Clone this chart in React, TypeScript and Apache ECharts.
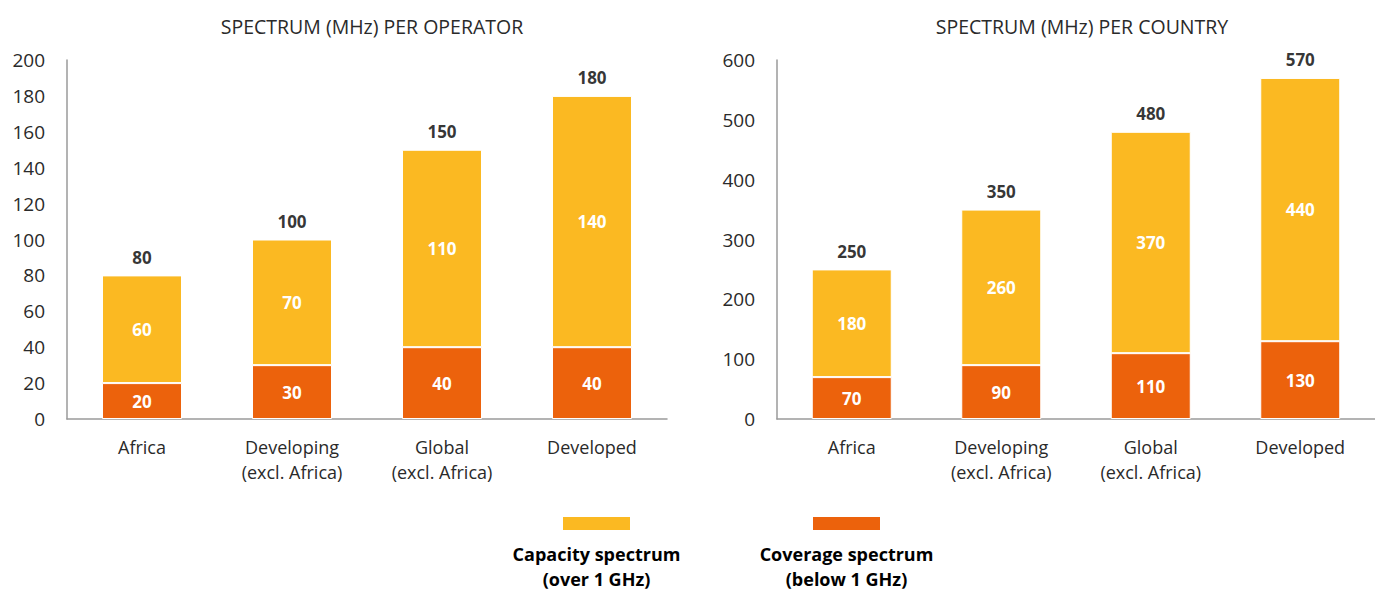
import React, { useEffect, useRef } from "react";
import * as echarts from "echarts";

const categories = ["Africa", "Developing\n(excl. Africa)", "Global\n(excl. Africa)", "Developed"];
const operatorCoverage = [20, 30, 40, 40];
const operatorCapacity = [60, 70, 110, 140];
const countryCoverage = [70, 90, 110, 130];
const countryCapacity = [180, 260, 370, 440];
const titles = ["SPECTRUM (MHz) PER OPERATOR", "SPECTRUM (MHz) PER COUNTRY"];
const legendNames = ["Capacity spectrum\n(over 1 GHz)", "Coverage spectrum\n(below 1 GHz)"];

const YELLOW = "#FBB922";
const ORANGE = "#EC620C";
const FONT = "'Open Sans', Lato, sans-serif";

export default function App() {
  const ref = useRef<HTMLDivElement>(null);
  useEffect(() => {
    if (!ref.current) return;
    const chart = echarts.init(ref.current, undefined, { renderer: "svg" });
    const opTotals = operatorCoverage.map((v, i) => v + operatorCapacity[i]);
    const coTotals = countryCoverage.map((v, i) => v + countryCapacity[i]);

    const xAxisBase = (gi: number) => ({
      type: "category" as const,
      gridIndex: gi,
      data: categories,
      axisLine: { show: true, lineStyle: { color: "#9a9a9a", width: 1.5 } },
      axisTick: { show: false },
      axisLabel: {
        color: "#2a2a2a",
        fontSize: 18,
        fontFamily: FONT,
        lineHeight: 25,
        margin: 15,
        interval: 0,
      },
    });
    const yAxisBase = (gi: number, max: number, interval: number) => ({
      type: "value" as const,
      gridIndex: gi,
      min: 0,
      max,
      interval,
      axisLine: { show: true, lineStyle: { color: "#9a9a9a", width: 1.5 } },
      axisTick: { show: false },
      splitLine: { show: false },
      axisLabel: { color: "#2a2a2a", fontSize: 19, fontFamily: FONT, margin: 22 },
    });
    const barSeries = (gi: number, data: number[], color: string, stack: string) => ({
      type: "bar" as const,
      xAxisIndex: gi,
      yAxisIndex: gi,
      stack,
      data,
      barWidth: 80,
      itemStyle: { color, borderColor: "#fff", borderWidth: 1 },
      label: {
        show: true,
        position: "inside" as const,
        color: "#fff",
        fontWeight: "bold" as const,
        fontSize: 17,
        fontFamily: FONT,
      },
    });
    const totalSeries = (gi: number, data: number[]) => ({
      type: "scatter" as const,
      xAxisIndex: gi,
      yAxisIndex: gi,
      data,
      symbolSize: 1,
      itemStyle: { color: "rgba(0,0,0,0)" },
      label: {
        show: true,
        position: "top" as const,
        distance: 9,
        color: "#000",
        fontWeight: "bold" as const,
        fontSize: 17,
        fontFamily: FONT,
      },
    });

    const legendItem = (cx: number, color: string, text: string) => ({
      type: "group",
      children: [
        { type: "rect", shape: { x: cx - 33.5, y: 517, width: 67, height: 13 }, style: { fill: color } },
        {
          type: "text",
          x: cx,
          y: 566,
          style: {
            text,
            fill: "#000",
            font: `bold 18px ${FONT}`,
            align: "center",
            verticalAlign: "middle",
            lineHeight: 25,
          },
        },
      ],
    });

    const titleStyle = { fontSize: 19.5, fontWeight: "normal", color: "#2a2a2a", fontFamily: FONT };
    chart.setOption({
      animation: false,
      title: [
        { text: titles[0], left: 367, top: 11, textAlign: "center", textStyle: titleStyle },
        { text: titles[1], left: 1077, top: 11, textAlign: "center", textStyle: titleStyle },
      ],
      grid: [
        { left: 67, top: 60, width: 600, height: 359 },
        { left: 777, top: 60, width: 598, height: 359 },
      ],
      xAxis: [xAxisBase(0), xAxisBase(1)],
      yAxis: [yAxisBase(0, 200, 20), yAxisBase(1, 600, 100)],
      series: [
        barSeries(0, operatorCoverage, ORANGE, "op"),
        barSeries(0, operatorCapacity, YELLOW, "op"),
        totalSeries(0, opTotals),
        barSeries(1, countryCoverage, ORANGE, "co"),
        barSeries(1, countryCapacity, YELLOW, "co"),
        totalSeries(1, coTotals),
      ],
      graphic: [legendItem(596.5, YELLOW, legendNames[0]), legendItem(846.5, ORANGE, legendNames[1])],
    });
    return () => chart.dispose();
  }, []);
  return (
    <div
      ref={ref}
      style={{ position: "fixed", left: 0, top: 0, width: 1375, height: 590, background: "#fff" }}
    />
  );
}
